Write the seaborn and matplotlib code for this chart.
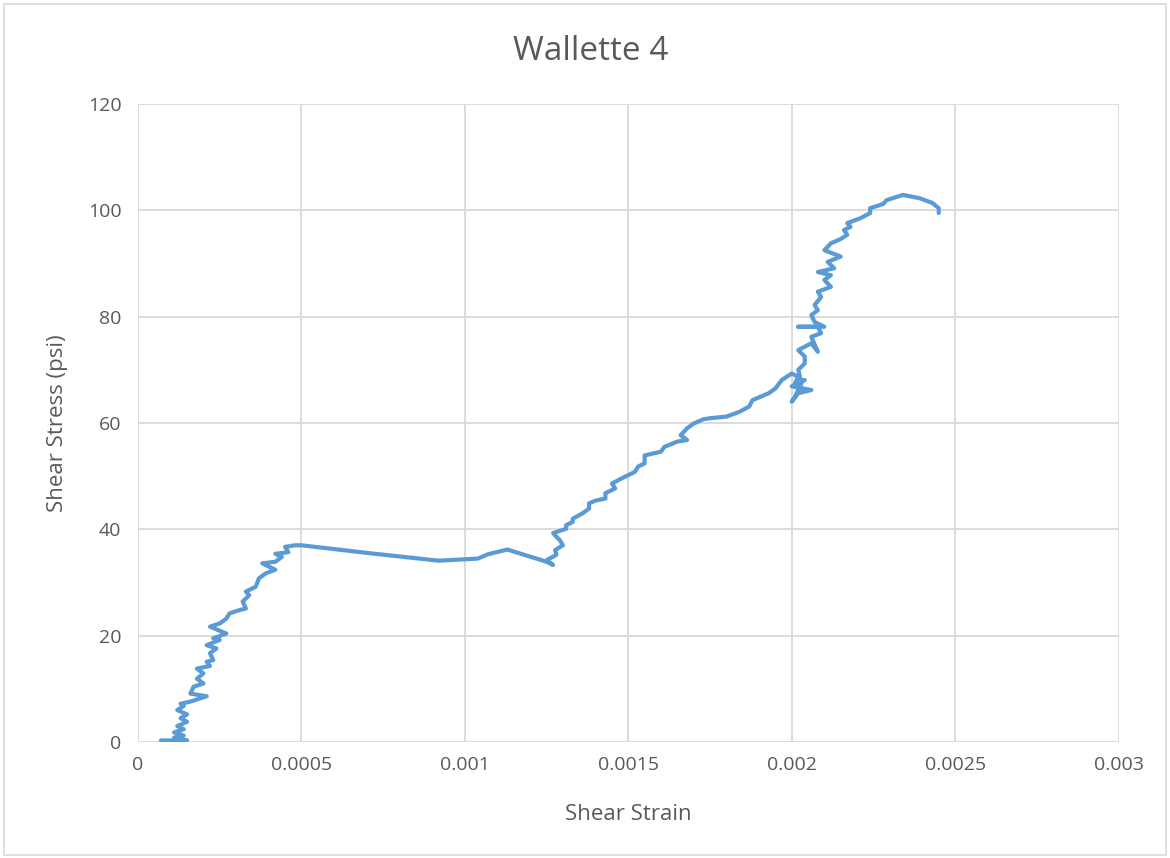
import pandas as pd
import matplotlib.pyplot as plt
import seaborn as sns
from matplotlib.patches import Rectangle

# Shear strain / shear stress readings (in order)
strain = [0.00007, 0.00015, 0.00011, 0.00014, 0.00011, 0.00014, 0.00012, 0.00015,
          0.00013, 0.00015, 0.00012, 0.00014, 0.00013, 0.00016, 0.00021, 0.00016,
          0.00017, 0.00020, 0.00018, 0.00020, 0.00018, 0.00022, 0.00021, 0.00023,
          0.00022, 0.00024, 0.00021, 0.00025, 0.00023, 0.00027, 0.00022, 0.00025,
          0.00027, 0.00028, 0.00031, 0.00033, 0.00032, 0.00034, 0.00033, 0.00036,
          0.00037, 0.00039, 0.00042, 0.00038, 0.00042, 0.00044, 0.00042, 0.00046,
          0.00045, 0.00048, 0.00050, 0.00071, 0.00092, 0.00104, 0.00107, 0.00113,
          0.00125, 0.00127, 0.00125, 0.00128, 0.001276, 0.00130, 0.00129, 0.00128,
          0.00127, 0.00129, 0.00131, 0.00131, 0.00133, 0.00133, 0.00136, 0.00138,
          0.00138, 0.00140, 0.00143, 0.00143, 0.00146, 0.00145, 0.00148, 0.00152,
          0.00153, 0.00155, 0.00155, 0.00160, 0.00161, 0.00165, 0.00168, 0.00166,
          0.00168, 0.00170, 0.00173, 0.00175, 0.00180, 0.00184, 0.00187, 0.00188,
          0.00193, 0.00195, 0.00197, 0.00200, 0.00202, 0.00201, 0.00204, 0.00200,
          0.00206, 0.00202, 0.00200, 0.00201, 0.00203, 0.00202, 0.00204, 0.00204,
          0.00202, 0.00206, 0.00208, 0.00206, 0.00209, 0.00208, 0.00202, 0.00210,
          0.00207, 0.00206, 0.00208, 0.00207, 0.00209, 0.00208, 0.00212, 0.00210,
          0.00212, 0.00208, 0.00213, 0.00211, 0.00215, 0.00210, 0.00212, 0.00215,
          0.00217, 0.00216, 0.00218, 0.00217, 0.00221, 0.00224, 0.00224, 0.00228,
          0.00229, 0.00234, 0.00239, 0.00243, 0.00245, 0.00245]
stress = [0.3, 0.3, 0.8, 1.2, 1.8, 2.4, 3.0, 3.8,
          4.5, 5.2, 6.0, 6.8, 7.2, 7.6, 8.6, 9.1,
          10.4, 11.0, 11.9, 12.9, 13.8, 14.3, 15.1, 15.4,
          16.7, 17.6, 18.2, 19.2, 19.5, 20.4, 21.7, 22.3,
          23.2, 24.2, 24.8, 25.1, 26.4, 27.6, 28.3, 29.2,
          30.8, 31.7, 32.4, 33.6, 33.9, 34.8, 35.4, 35.7,
          36.7, 37.0, 37.0, 35.5, 34.1, 34.5, 35.3, 36.2,
          33.9, 33.3, 34.2, 35.2, 36.1, 37.0, 38.0, 38.6,
          39.3, 39.7, 40.1, 40.8, 41.4, 42.0, 43.0, 43.9,
          44.9, 45.4, 45.8, 46.8, 47.7, 48.6, 49.6, 50.8,
          51.8, 52.4, 53.9, 54.6, 55.5, 56.5, 56.8, 57.7,
          59.0, 59.9, 60.7, 60.9, 61.2, 62.1, 63.1, 64.3,
          65.6, 66.5, 68.1, 69.3, 68.7, 67.5, 68.1, 66.9,
          66.2, 65.6, 64.0, 64.9, 67.5, 70.0, 71.2, 72.5,
          73.7, 75.0, 73.4, 76.2, 76.9, 78.1, 78.1, 78.1,
          79.0, 80.3, 81.2, 82.2, 83.7, 84.7, 85.6, 86.9,
          87.8, 88.4, 89.1, 90.3, 91.3, 92.5, 93.8, 94.6,
          95.4, 96.3, 96.9, 97.6, 98.5, 99.5, 100.4, 101.2,
          101.9, 102.9, 102.3, 101.4, 100.4, 99.5]
x_ticks = [0, 0.0005, 0.001, 0.0015, 0.002, 0.0025, 0.003]
x_tick_labels = ["0", "0.0005", "0.001", "0.0015", "0.002", "0.0025", "0.003"]
y_ticks = [0, 20, 40, 60, 80, 100, 120]

df = pd.DataFrame({"strain": strain, "stress": stress})

sns.set_style("white")
plt.rcParams["font.family"] = ["Open Sans", "DejaVu Sans"]
text_col = "#595959"
grid_col = "#D9D9D9"

fig = plt.figure(figsize=(11.7, 8.58), dpi=100)
ax = fig.add_axes([0.118, 0.1352, 0.838, 0.7436])

sns.lineplot(data=df, x="strain", y="stress", sort=False, estimator=None,
             color="#5B9BD5", linewidth=3.0, ax=ax, zorder=3,
             solid_joinstyle="round", solid_capstyle="round")

ax.set_xlim(0, 0.003)
ax.set_ylim(0, 120)
ax.set_xticks(x_ticks)
ax.set_xticklabels(x_tick_labels)
ax.set_yticks(y_ticks)
ax.grid(True, color=grid_col, linewidth=1.3)
for s in ax.spines.values():
    s.set_visible(False)
ax.tick_params(length=0, labelsize=14, colors=text_col, pad=10)
ax.tick_params(axis="y", pad=12)

ax.set_xlabel("Shear Strain", fontsize=16, color=text_col, labelpad=22)
ax.set_ylabel("Shear Stress (psi)", fontsize=16, color=text_col, labelpad=14)
fig.text(0.505, 0.94, "Wallette 4", fontsize=24, color=text_col,
         ha="center", va="center")

fig.patches.append(Rectangle((0.003, 0.003), 0.994, 0.992, transform=fig.transFigure,
                             fill=False, edgecolor=grid_col, linewidth=1.2))

plt.savefig("out.png", dpi=100)
plt.close()
